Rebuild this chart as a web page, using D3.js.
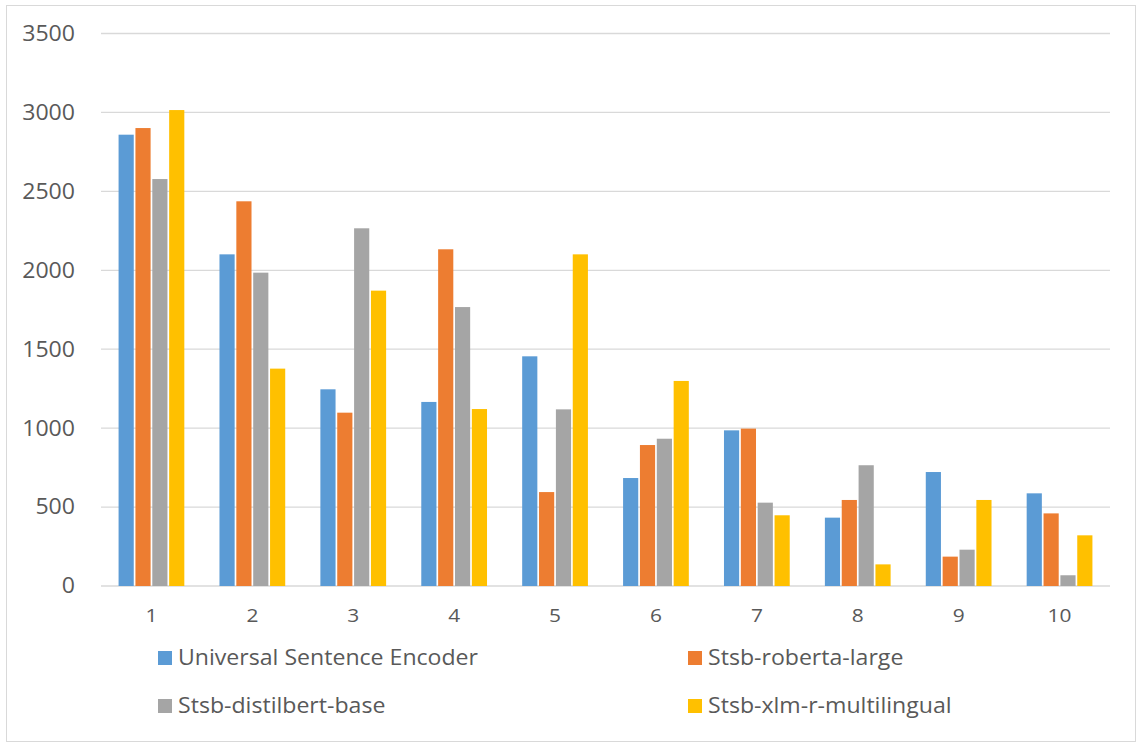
<!DOCTYPE html>
<html>
<head>
<meta charset="utf-8">
<script src="https://cdn.jsdelivr.net/npm/d3@7"></script>
<style>
  body { margin: 0; background: #fff; }
  svg { display: block; font-family: "Open Sans", sans-serif; }
</style>
</head>
<body>
<div id="chart"></div>
<script>
// values
const categories = ["1", "2", "3", "4", "5", "6", "7", "8", "9", "10"];
const seriesNames = ["Universal Sentence Encoder", "Stsb-roberta-large", "Stsb-distilbert-base", "Stsb-xlm-r-multilingual"];
const useValues     = [2859, 2101, 1246, 1166, 1455, 684, 986, 433, 722, 587];
const robertaValues = [2901, 2437, 1098, 2133, 595, 893, 997, 545, 186, 460];
const distilValues  = [2578, 1985, 2266, 1767, 1119, 933, 528, 765, 230, 68];
const xlmValues     = [3015, 1377, 1871, 1121, 2101, 1299, 448, 137, 545, 321];
const yTicks = [0, 500, 1000, 1500, 2000, 2500, 3000, 3500];
const colours = ["#5B9BD5", "#ED7D31", "#A5A5A5", "#FFC000"];

const allSeries = [useValues, robertaValues, distilValues, xlmValues];
const rows = categories.map((c, i) => ({ cat: c, vals: allSeries.map((s, k) => ({ key: seriesNames[k], v: s[i] })) }));

const W = 1139, H = 745;
const margin = { left: 101, right: 29, top: 33.5, bottom: 159 };
const innerWidth = W - margin.left - margin.right;
const innerHeight = H - margin.top - margin.bottom;
const stretch = 1.1; // the reference text is a bit wider than it is tall

const svg = d3.select("#chart").append("svg").attr("width", W).attr("height", H);

// outer frame
svg.append("rect").attr("x", 6.5).attr("y", 5.5).attr("width", 1129).attr("height", 736)
  .attr("fill", "none").attr("stroke", "#D9D9D9");

const chart = svg.append("g").attr("transform", `translate(${margin.left},${margin.top})`);

const x0 = d3.scaleBand().domain(categories).range([0, innerWidth]).paddingInner(0.315).paddingOuter(0.1575);
const x1 = d3.scaleBand().domain(seriesNames).range([0, x0.bandwidth()]).padding(0.1);
const y = d3.scaleLinear().domain([0, 3500]).range([innerHeight, 0]);

// gridlines
chart.append("g").selectAll("line").data(yTicks).enter().append("line")
  .attr("x1", 0).attr("x2", innerWidth)
  .attr("y1", d => y(d)).attr("y2", d => y(d))
  .attr("stroke", "#D9D9D9").attr("stroke-width", 1.3);

// y tick labels
chart.append("g").selectAll("text").data(yTicks).enter().append("text")
  .attr("transform", d => `translate(-26,${y(d)}) scale(${stretch},1)`).attr("dy", "0.35em")
  .attr("text-anchor", "end").attr("fill", "#595959").attr("font-size", 21)
  .text(d => d);

// bars
const groups = chart.selectAll("g.grp").data(rows).enter().append("g")
  .attr("class", "grp").attr("transform", d => `translate(${x0(d.cat)},0)`);
groups.selectAll("rect").data(d => d.vals).enter().append("rect")
  .attr("x", d => x1(d.key))
  .attr("width", x1.bandwidth())
  .attr("y", d => y(d.v))
  .attr("height", d => innerHeight - y(d.v))
  .attr("fill", (d, i) => colours[i]);

// x labels
chart.append("g").selectAll("text").data(categories).enter().append("text")
  .attr("transform", d => `translate(${x0(d) + x0.bandwidth() / 2},${innerHeight + 29}) scale(${stretch},1)`)
  .attr("dy", "0.35em")
  .attr("text-anchor", "middle").attr("fill", "#595959").attr("font-size", 19)
  .text(d => d);

// legend, 2 x 2
const legendPos = [[158, 658], [688, 658], [158, 706], [688, 706]];
const legend = svg.append("g").selectAll("g").data(seriesNames).enter().append("g")
  .attr("transform", (d, i) => `translate(${legendPos[i][0]},${legendPos[i][1]})`);
legend.append("rect").attr("x", 0).attr("y", -7).attr("width", 14).attr("height", 14)
  .attr("fill", (d, i) => colours[i]);
legend.append("text").attr("transform", `translate(20,0) scale(${stretch},1)`).attr("dy", "0.35em")
  .attr("fill", "#595959").attr("font-size", 21).text(d => d);
</script>
</body>
</html>
